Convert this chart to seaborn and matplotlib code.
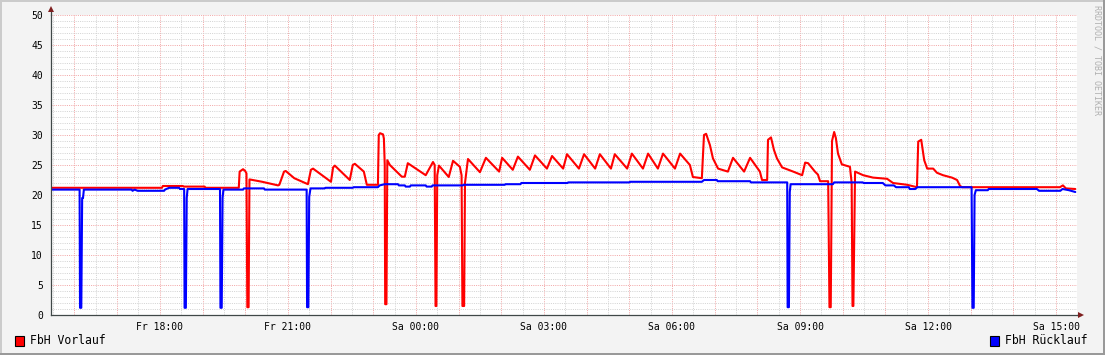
import numpy as np
import pandas as pd
import matplotlib
matplotlib.use("Agg")
import matplotlib.pyplot as plt
import seaborn as sns
from matplotlib.ticker import MultipleLocator, FuncFormatter
from matplotlib.patches import Rectangle
from matplotlib.lines import Line2D

# ---------------- data (hours since Fr 00:00, temperature in degC) ----------------
vorlauf_hours = [15.45, 18.05, 18.07, 18.54, 18.56, 19.05, 19.07, 19.85, 19.87, 19.95,
                 20.00, 20.03, 20.05, 20.08, 20.10, 20.40, 20.77, 20.80, 20.91, 20.95,
                 21.15, 21.47, 21.54, 21.59, 22.01, 22.06, 22.10, 22.45, 22.52, 22.57,
                 22.78, 22.85, 23.11, 23.13, 23.16, 23.23, 23.25, 23.27, 23.28, 23.31,
                 23.33, 23.39, 23.67, 23.74, 23.81, 24.23, 24.40, 24.44, 24.46, 24.48,
                 24.50, 24.54, 24.77, 24.87, 25.03, 25.07, 25.09, 25.13, 25.15, 25.22,
                 25.50, 25.64, 25.95, 26.02, 26.27, 26.39, 26.67, 26.79, 27.07, 27.19,
                 27.45, 27.54, 27.82, 27.94, 28.20, 28.31, 28.57, 28.66, 28.95, 29.06,
                 29.32, 29.44, 29.67, 29.79, 30.07, 30.19, 30.42, 30.49, 30.70, 30.75,
                 30.80, 30.89, 30.96, 31.08, 31.31, 31.43, 31.69, 31.83, 31.95, 32.06,
                 32.11, 32.23, 32.25, 32.32, 32.39, 32.46, 32.58, 32.84, 33.05, 33.12,
                 33.19, 33.35, 33.42, 33.47, 33.66, 33.69, 33.72, 33.75, 33.80, 33.84,
                 33.89, 33.98, 34.17, 34.21, 34.23, 34.25, 34.29, 34.48, 34.71, 35.04,
                 35.18, 35.51, 35.74, 35.77, 35.84, 35.88, 35.91, 35.98, 36.12, 36.21,
                 36.35, 36.56, 36.68, 36.75, 36.80, 39.09, 39.16, 39.23, 39.45]
vorlauf_temp = [21.2, 21.2, 21.5, 21.5, 21.4, 21.4, 21.2, 21.2, 23.9, 24.3,
                24.0, 23.6, 1.3, 1.3, 22.6, 22.2, 21.6, 21.7, 23.9, 24.0,
                22.8, 21.8, 24.2, 24.4, 22.2, 24.6, 24.9, 22.5, 25.0, 25.2,
                23.9, 21.7, 21.7, 30.0, 30.3, 30.1, 29.4, 25.0, 1.8, 1.8,
                25.8, 25.0, 23.05, 23.05, 25.3, 23.3, 25.5, 25.0, 1.5, 1.5,
                23.3, 24.9, 23.0, 25.7, 24.7, 23.3, 1.5, 1.5, 22.0, 26.0,
                23.8, 26.2, 23.9, 26.2, 24.2, 26.4, 24.2, 26.6, 24.4, 26.5,
                24.4, 26.8, 24.4, 26.8, 24.4, 26.8, 24.4, 26.8, 24.4, 26.9,
                24.4, 26.9, 24.4, 26.9, 24.4, 26.9, 25.0, 23.0, 22.8, 30.0,
                30.2, 28.3, 26.1, 24.4, 23.9, 26.2, 23.9, 26.2, 25.0, 23.9,
                22.5, 22.5, 29.2, 29.6, 27.5, 26.1, 24.6, 23.9, 23.3, 25.4,
                25.3, 23.9, 23.4, 22.3, 22.3, 1.3, 1.3, 29.0, 30.5, 29.5,
                26.9, 25.1, 24.7, 22.0, 1.5, 1.5, 23.9, 23.3, 22.9, 22.7,
                22.0, 21.7, 21.3, 28.9, 29.2, 27.2, 25.8, 24.4, 24.4, 23.7,
                23.3, 22.9, 22.5, 21.5, 21.3, 21.3, 21.6, 21.1, 21.0]

ruecklauf_hours = [15.45, 16.12, 16.13, 16.16, 16.18, 16.20, 16.22, 17.34, 17.36, 17.41,
                   17.48, 18.10, 18.12, 18.22, 18.45, 18.47, 18.57, 18.58, 18.61, 18.63,
                   18.65, 19.41, 19.42, 19.45, 19.47, 19.49, 19.95, 19.97, 20.44, 20.46,
                   21.44, 21.45, 21.48, 21.50, 21.53, 21.86, 21.88, 22.52, 22.54, 23.11,
                   23.15, 23.27, 23.58, 23.60, 23.74, 23.76, 23.86, 23.88, 24.23, 24.25,
                   24.37, 24.39, 25.10, 25.12, 26.08, 26.10, 26.45, 26.47, 27.55, 27.57,
                   29.00, 29.02, 30.70, 30.75, 31.05, 31.07, 31.83, 31.85, 32.70, 32.71,
                   32.74, 32.76, 32.78, 33.77, 33.80, 34.47, 34.49, 34.94, 35.00, 35.20,
                   35.25, 35.55, 35.57, 35.70, 35.75, 37.02, 37.04, 37.07, 37.09, 37.12,
                   37.40, 37.42, 38.55, 38.60, 39.10, 39.15, 39.30, 39.45]
ruecklauf_temp = [20.9, 20.9, 1.2, 1.2, 19.5, 19.5, 20.9, 20.9, 20.7, 20.9,
                  20.7, 20.7, 20.9, 21.2, 21.2, 21.0, 21.0, 1.2, 1.2, 19.5,
                  21.0, 21.0, 1.2, 1.2, 19.5, 20.9, 20.9, 21.1, 21.1, 20.9,
                  20.9, 1.3, 1.3, 19.7, 21.1, 21.1, 21.2, 21.2, 21.3, 21.3,
                  21.6, 21.8, 21.8, 21.6, 21.6, 21.4, 21.4, 21.6, 21.6, 21.4,
                  21.4, 21.6, 21.6, 21.7, 21.7, 21.8, 21.8, 22.0, 22.0, 22.1,
                  22.1, 22.2, 22.2, 22.5, 22.5, 22.3, 22.3, 22.1, 22.1, 1.3,
                  1.3, 20.5, 21.8, 21.8, 22.1, 22.1, 22.0, 22.0, 21.6, 21.6,
                  21.3, 21.3, 21.0, 21.0, 21.3, 21.3, 1.2, 1.2, 20.0, 20.8,
                  20.8, 21.0, 21.0, 20.7, 20.7, 21.0, 20.8, 20.5]

series_names = ["FbH Vorlauf", "FbH Rücklauf"]
series_colors = ["#FF0000", "#0000FF"]

tick_hours = [18, 21, 24, 27, 30, 33, 36, 39]
tick_labels = ["Fr 18:00", "Fr 21:00", "Sa 00:00", "Sa 03:00",
               "Sa 06:00", "Sa 09:00", "Sa 12:00", "Sa 15:00"]
x_range = [15.45, 39.49]
y_range = [0, 50]

watermark = "RRDTOOL / TOBI OETIKER"

# ---------------- build table ----------------
df = pd.concat([
    pd.DataFrame({"hour": vorlauf_hours, "temp": vorlauf_temp, "series": series_names[0]}),
    pd.DataFrame({"hour": ruecklauf_hours, "temp": ruecklauf_temp, "series": series_names[1]}),
], ignore_index=True)

# ---------------- style ----------------
sns.set_style("white")
plt.rcParams["font.family"] = ["DejaVu Sans Mono", "DejaVu Sans"]

W, H = 1105, 355
BACK = "#F3F3F3"
fig = plt.figure(figsize=(W / 100, H / 100), dpi=100, facecolor=BACK)
ax = fig.add_axes([51 / W, 40 / H, (1077 - 51) / W, 300 / H])
ax.set_facecolor("white")

sns.lineplot(data=df, x="hour", y="temp", hue="series", hue_order=series_names,
             palette=dict(zip(series_names, series_colors)), estimator=None,
             sort=False, linewidth=1.5, legend=False, ax=ax)

ax.set_xlim(*x_range)
ax.set_ylim(*y_range)
ax.set_xlabel("")
ax.set_ylabel("")

# grid
ax.xaxis.set_major_locator(MultipleLocator(1))
ax.xaxis.set_minor_locator(MultipleLocator(0.5))
ax.yaxis.set_major_locator(MultipleLocator(5))
ax.yaxis.set_minor_locator(MultipleLocator(1))
label_map = dict(zip(tick_hours, tick_labels))
ax.xaxis.set_major_formatter(FuncFormatter(lambda v, p: label_map.get(int(round(v)), "")
                                           if abs(v - round(v)) < 1e-6 else ""))
ax.yaxis.set_major_formatter(FuncFormatter(lambda v, p: f"{int(round(v))}"))
ax.set_axisbelow(True)
ax.grid(which="major", color="#F2A8A8", linestyle=(0, (1, 1.2)), linewidth=0.72)
ax.grid(which="minor", color="#D4D4D4", linestyle=(0, (1, 1.2)), linewidth=0.72)

axis_col = "#404848"
for s in ["top", "right"]:
    ax.spines[s].set_visible(False)
for s in ["left", "bottom"]:
    ax.spines[s].set_color(axis_col)
    ax.spines[s].set_linewidth(0.9)

ax.tick_params(axis="both", which="major", length=2.2, width=0.72, color=axis_col,
               labelsize=7, labelcolor="black", pad=2.5)
ax.tick_params(axis="both", which="minor", length=1.2, width=0.72, color="#909090")
ax.tick_params(axis="y", which="major", pad=3.5)

# arrows at the ends of the axes
ax.plot([0, 0], [1, 1.02], transform=ax.transAxes, color=axis_col, lw=0.9, clip_on=False)
ax.plot([0], [1.02], marker="^", ms=4.5, color="#7F1F1F", transform=ax.transAxes,
        clip_on=False, markeredgewidth=0)
ax.plot([1, 1.004], [0, 0], transform=ax.transAxes, color=axis_col, lw=0.9, clip_on=False)
ax.plot([1.004], [0], marker=">", ms=4.5, color="#7F1F1F", transform=ax.transAxes,
        clip_on=False, markeredgewidth=0)

# legend
legend_pos = [(15, 30), (990, 1005)]
for (bx, tx), name, col in zip(legend_pos, series_names, series_colors):
    fig.add_artist(Rectangle((bx / W, (355 - 346) / H), 9 / W, 10 / H, facecolor=col,
                             edgecolor="black", linewidth=0.8, transform=fig.transFigure))
    fig.text(tx / W, (355 - 341) / H, name, ha="left", va="center", fontsize=8.3,
             color="black")

# watermark
fig.text(1097 / W, 1 - 5 / H, watermark, rotation=270, ha="center", va="top",
         fontsize=6, color="#B0B0B0")

# 3D-like frame
fig.add_artist(Line2D([0, 1], [1 - 1 / H, 1 - 1 / H], color="#CBCBCB", lw=1.44,
                      transform=fig.transFigure))
fig.add_artist(Line2D([1 / W, 1 / W], [0, 1], color="#CBCBCB", lw=1.44,
                      transform=fig.transFigure))
fig.add_artist(Line2D([0, 1], [1 / H, 1 / H], color="#999999", lw=1.44,
                      transform=fig.transFigure))
fig.add_artist(Line2D([1 - 1 / W, 1 - 1 / W], [0, 1], color="#999999", lw=1.44,
                      transform=fig.transFigure))

fig.savefig("out.png", dpi=100, facecolor=BACK)
